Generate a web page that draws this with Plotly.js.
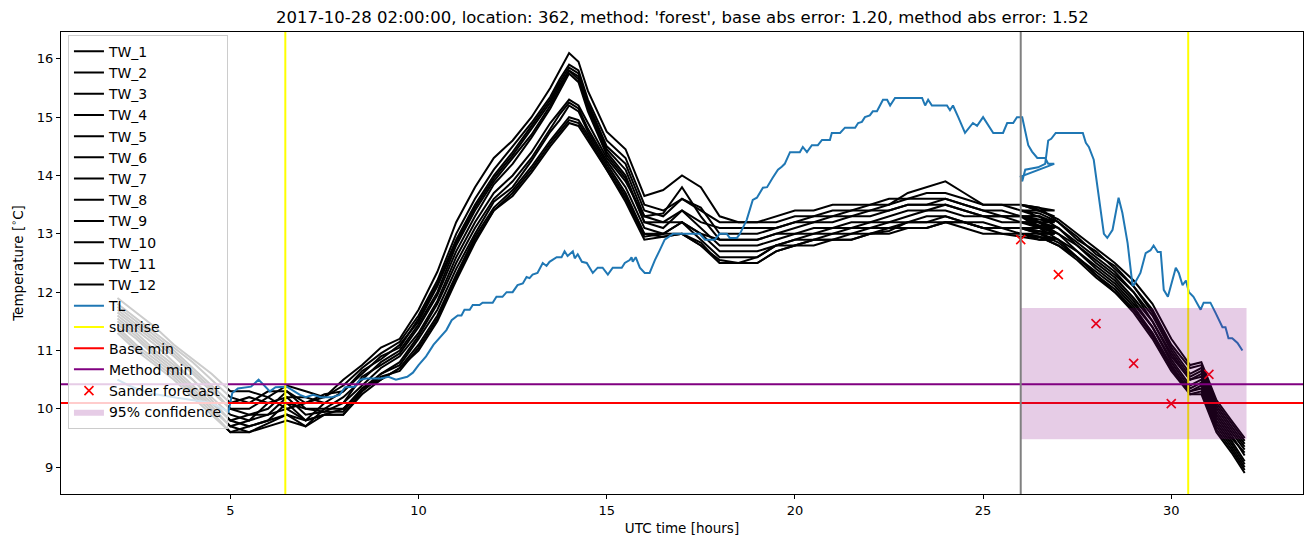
<!DOCTYPE html>
<html><head><meta charset="utf-8">
<script src="https://cdn.plot.ly/plotly-3.0.1.min.js"></script>
<style>html,body{margin:0;padding:0;background:#fff}</style>
</head><body><div id="chart" style="width:1311px;height:547px"></div>
<script>
// Shared hour axis of the TW series (first run up to 26.9 h, then second run from 26 h)
const TW_X = [2, 2.5, 3, 3.5, 4, 4.5, 5, 5.5, 6, 6.5, 7, 7.5, 8, 8.5, 9, 9.5,
  10, 10.5, 11, 11.5, 12, 12.5, 13, 13.5, 13.75, 14, 14.25, 14.5, 15, 15.5,
  16, 16.5, 17, 17.5, 18,
  18.5, 19, 19.5, 20, 20.5, 21, 21.5, 22, 22.5, 23, 23.5, 24, 24.5, 25, 25.5, 26, 26.5, 26.9,
  26, 26.5, 27, 27.5, 28, 28.5, 29, 29.5, 30, 30.5, 30.8, 31.2, 31.6, 31.95];

const TW_1 = [11.9, 11.65, 11.4, 11.1, 10.85, 10.6, 10.3, 10.3, 10.2, 10.4, 10.3, 10.2, 10.5, 10.75, 11.05, 11.2,
  11.7, 12.35, 13.2, 13.8, 14.3, 14.6, 15.0, 15.5, 15.8, 16.1, 15.95, 15.45, 14.75, 14.45,
  13.65, 13.75, 14.0, 13.8, 13.3,
  13.2, 13.2, 13.3, 13.4, 13.4, 13.5, 13.5, 13.5, 13.6, 13.6, 13.7, 13.7, 13.6, 13.5, 13.5, 13.4, 13.4, 13.4,
  13.5, 13.4, 13.25, 13.0, 12.75, 12.5, 12.2, 11.8, 11.2, 10.75, 10.8, 10.15, 9.8, 9.5];
const TW_2 = [11.8, 11.55, 11.3, 11.05, 10.8, 10.5, 10.2, 10.1, 10.3, 10.3, 10.1, 10.2, 10.4, 10.7, 10.95, 11.15,
  11.6, 12.2, 13.0, 13.6, 14.1, 14.5, 14.9, 15.35, 15.65, 15.9, 15.8, 15.3, 14.6, 14.3,
  13.5, 13.4, 13.6, 13.45, 13.0,
  13.0, 13.0, 13.1, 13.2, 13.3, 13.3, 13.4, 13.4, 13.5, 13.6, 13.6, 13.6, 13.5, 13.4, 13.4, 13.3, 13.3, 13.2,
  13.4, 13.35, 13.2, 12.9, 12.7, 12.4, 12.1, 11.7, 11.1, 10.7, 10.75, 10.1, 9.75, 9.45];
const TW_3 = [11.75, 11.5, 11.25, 11.0, 10.7, 10.4, 10.1, 10.2, 10.1, 10.2, 10.2, 10.1, 10.3, 10.6, 10.9, 11.05,
  11.55, 12.15, 12.9, 13.5, 14.0, 14.4, 14.85, 15.3, 15.6, 15.85, 15.75, 15.25, 14.5, 14.2,
  13.4, 13.3, 13.6, 13.4, 13.2,
  13.2, 13.2, 13.2, 13.3, 13.3, 13.4, 13.4, 13.5, 13.5, 13.7, 13.8, 13.9, 13.7, 13.5, 13.5, 13.5, 13.4, 13.3,
  13.5, 13.45, 13.2, 12.95, 12.65, 12.45, 12.1, 11.65, 11.05, 10.6, 10.7, 10.05, 9.7, 9.4];
const TW_4 = [11.7, 11.45, 11.2, 10.95, 10.65, 10.35, 10.0, 10.0, 10.2, 10.0, 10.1, 10.25, 10.3, 10.65, 10.85, 11.1,
  11.5, 12.1, 12.85, 13.45, 13.95, 14.35, 14.8, 15.25, 15.55, 15.8, 15.7, 15.2, 14.45, 14.1,
  13.3, 13.35, 13.8, 13.3, 12.9,
  12.9, 12.9, 13.0, 13.1, 13.2, 13.2, 13.3, 13.3, 13.4, 13.5, 13.5, 13.6, 13.5, 13.4, 13.3, 13.3, 13.2, 13.2,
  13.3, 13.3, 13.1, 12.85, 12.6, 12.35, 12.0, 11.6, 11.0, 10.55, 10.65, 10.0, 9.65, 9.35];
const TW_5 = [11.65, 11.4, 11.15, 10.9, 10.6, 10.3, 10.0, 9.9, 10.0, 10.3, 10.0, 10.0, 10.2, 10.5, 10.8, 11.0,
  11.45, 12.0, 12.8, 13.4, 13.9, 14.3, 14.7, 15.2, 15.5, 15.8, 15.65, 15.15, 14.4, 14.0,
  13.2, 13.2, 13.4, 13.2, 13.1,
  13.1, 13.1, 13.1, 13.2, 13.2, 13.3, 13.3, 13.4, 13.4, 13.5, 13.5, 13.5, 13.4, 13.3, 13.3, 13.2, 13.2, 13.1,
  13.3, 13.2, 13.1, 12.8, 12.55, 12.3, 12.0, 11.5, 10.95, 10.5, 10.6, 9.95, 9.6, 9.3];
const TW_6 = [11.6, 11.35, 11.1, 10.8, 10.5, 10.2, 9.9, 9.8, 10.1, 10.1, 9.8, 10.1, 10.1, 10.55, 10.75, 10.95,
  11.4, 11.95, 12.7, 13.3, 13.85, 14.2, 14.65, 15.15, 15.45, 15.75, 15.6, 15.1, 14.35, 13.95,
  13.2, 13.1, 13.4, 13.1, 12.8,
  12.8, 12.8, 12.9, 13.0, 13.1, 13.1, 13.2, 13.2, 13.3, 13.4, 13.4, 13.4, 13.3, 13.3, 13.2, 13.2, 13.1, 13.1,
  13.2, 13.2, 13.0, 12.8, 12.5, 12.25, 11.9, 11.5, 10.9, 10.5, 10.55, 9.9, 9.55, 9.2];
const TW_7 = [11.55, 11.3, 11.0, 10.75, 10.5, 10.15, 9.8, 9.9, 9.9, 10.2, 9.9, 9.95, 10.1, 10.4, 10.7, 10.9,
  11.3, 11.85, 12.6, 13.2, 13.7, 14.0, 14.4, 14.9, 15.1, 15.3, 15.2, 14.9, 14.3, 13.9,
  13.3, 13.2, 13.2, 13.0, 12.9,
  12.9, 12.9, 13.0, 13.0, 13.0, 13.1, 13.1, 13.2, 13.2, 13.3, 13.4, 13.5, 13.4, 13.3, 13.3, 13.3, 13.2, 13.0,
  13.3, 13.1, 13.0, 12.7, 12.45, 12.2, 11.85, 11.4, 10.85, 10.4, 10.5, 9.85, 9.5, 9.25];
const TW_8 = [11.5, 11.25, 10.95, 10.7, 10.4, 10.1, 9.8, 9.7, 9.8, 9.9, 9.7, 10.0, 10.0, 10.35, 10.6, 10.8,
  11.25, 11.8, 12.5, 13.1, 13.6, 13.9, 14.3, 14.8, 15.05, 15.25, 15.15, 14.8, 14.25, 13.8,
  13.1, 13.0, 13.2, 13.0, 12.7,
  12.7, 12.7, 12.8, 12.9, 13.0, 13.0, 13.1, 13.1, 13.2, 13.2, 13.3, 13.3, 13.2, 13.2, 13.1, 13.1, 13.0, 13.0,
  13.1, 13.1, 12.9, 12.7, 12.4, 12.15, 11.8, 11.4, 10.8, 10.35, 10.45, 9.8, 9.45, 9.1];
const TW_9 = [11.45, 11.2, 10.9, 10.65, 10.35, 10.05, 9.7, 9.8, 9.9, 10.0, 9.8, 9.9, 10.0, 10.3, 10.6, 10.75,
  11.2, 11.7, 12.4, 13.0, 13.55, 13.8, 14.25, 14.75, 14.95, 15.2, 15.1, 14.75, 14.2, 13.7,
  13.0, 13.0, 13.2, 12.9, 12.6,
  12.6, 12.6, 12.8, 12.9, 12.9, 13.0, 13.0, 13.1, 13.1, 13.2, 13.2, 13.3, 13.2, 13.1, 13.1, 13.0, 13.0, 12.9,
  13.0, 13.0, 12.9, 12.6, 12.35, 12.1, 11.75, 11.3, 10.75, 10.3, 10.4, 9.75, 9.4, 9.05];
const TW_10 = [11.4, 11.1, 10.85, 10.6, 10.3, 10.0, 9.7, 9.6, 9.7, 9.8, 9.7, 9.9, 9.9, 10.25, 10.5, 10.7,
  11.1, 11.6, 12.3, 12.95, 13.45, 13.75, 14.15, 14.6, 14.8, 15.0, 14.95, 14.7, 14.15, 13.65,
  13.0, 12.95, 13.0, 12.8, 12.55,
  12.5, 12.5, 12.7, 12.8, 12.9, 12.9, 13.0, 13.0, 13.1, 13.1, 13.1, 13.2, 13.2, 13.1, 13.0, 13.0, 12.9, 12.9,
  13.0, 12.95, 12.8, 12.6, 12.3, 12.05, 11.7, 11.3, 10.7, 10.3, 10.35, 9.7, 9.35, 9.0];
const TW_11 = [11.35, 11.05, 10.8, 10.55, 10.25, 9.95, 9.6, 9.6, 9.75, 9.9, 9.8, 9.9, 9.9, 10.3, 10.55, 10.65,
  11.05, 11.55, 12.25, 12.9, 13.4, 13.7, 14.1, 14.55, 14.75, 14.95, 14.9, 14.65, 14.1, 13.6,
  12.95, 13.0, 13.0, 12.85, 12.5,
  12.5, 12.5, 12.7, 12.8, 12.8, 12.9, 12.9, 13.0, 13.0, 13.1, 13.1, 13.2, 13.1, 13.0, 13.0, 12.95, 12.9, 12.9,
  13.0, 12.95, 12.8, 12.55, 12.25, 12.0, 11.65, 11.2, 10.65, 10.25, 10.3, 9.65, 9.3, 8.95];
const TW_12 = [11.3, 11.0, 10.75, 10.5, 10.2, 9.9, 9.6, 9.7, 9.8, 10.1, 10.0, 9.95, 9.95, 10.35, 10.5, 10.7,
  11.0, 11.5, 12.2, 12.85, 13.4, 13.65, 14.05, 14.5, 14.7, 14.9, 14.85, 14.6, 14.1, 13.55,
  12.9, 12.95, 13.0, 12.8, 12.5,
  12.5, 12.6, 12.8, 12.8, 12.9, 12.9, 12.9, 13.0, 13.05, 13.2, 13.2, 13.2, 13.2, 13.1, 13.1, 13.1, 13.0, 13.0,
  13.1, 13.0, 12.85, 12.6, 12.3, 12.0, 11.7, 11.25, 10.7, 10.25, 10.25, 9.6, 9.25, 8.9];
const TW_SERIES = [TW_1, TW_2, TW_3, TW_4, TW_5, TW_6, TW_7, TW_8, TW_9, TW_10, TW_11, TW_12];
const TW_NAMES = ['TW_1','TW_2','TW_3','TW_4','TW_5','TW_6','TW_7','TW_8','TW_9','TW_10','TW_11','TW_12'];

// TL observations (first run, then second run starting again at 26 h)
const TL_X = [2.0, 2.3, 2.7, 3.0, 3.5, 4.0, 4.5, 4.95, 5.05, 5.2, 5.4, 5.55, 5.75, 5.9, 6.05, 6.2, 6.5, 6.7, 6.85,
  7.0, 7.2, 7.4, 7.7, 7.9, 8.05, 8.3, 8.45, 8.6, 9.0, 9.2, 9.4, 9.7, 9.85, 10.0, 10.2, 10.4, 10.6,
  10.74, 10.88, 11.04, 11.14, 11.22, 11.36, 11.44, 11.62, 11.70, 11.97, 12.07, 12.23, 12.34, 12.50, 12.63, 12.77,
  12.87, 12.95, 13.03, 13.16, 13.30, 13.40, 13.48, 13.67, 13.80, 13.88, 13.96, 14.10, 14.15, 14.23, 14.34, 14.47,
  14.63, 14.76, 14.89, 15.03, 15.16, 15.40, 15.48, 15.61, 15.66, 15.69, 15.77, 15.88, 16.01, 16.14, 16.28, 16.41,
  16.54, 16.76, 17.47, 17.61, 17.87, 18.0, 18.19, 18.27, 18.46, 18.54, 18.72, 18.88, 18.99, 19.15, 19.26, 19.41,
  19.55, 19.65, 19.73, 19.87, 20.13, 20.21, 20.32, 20.45, 20.61, 20.72, 20.93, 20.98, 21.2, 21.33, 21.6, 21.68,
  21.78, 21.86, 21.99, 22.07, 22.18, 22.26, 22.34, 22.45, 22.53, 22.66, 23.38, 23.46, 23.54, 23.64, 24.04, 24.12,
  24.2, 24.34, 24.52, 24.73, 24.84, 25.0, 25.13, 25.27, 25.53, 25.64, 25.8, 25.9, 26.04, 26.12, 26.2, 26.3, 26.44,
  26.65, 26.73, 26.89,
  26.0, 26.04, 26.12, 26.46, 26.65, 26.73, 26.81, 26.93, 27.65, 27.73, 27.81, 27.94, 28.05, 28.13, 28.21, 28.3,
  28.44, 28.6, 28.7, 28.84, 28.97, 29.0, 29.18, 29.32, 29.45, 29.53, 29.64, 29.72, 29.8, 29.91, 29.99, 30.12,
  30.2, 30.3, 30.39, 30.47, 30.59, 30.78, 30.86, 31.04, 31.18, 31.36, 31.44, 31.52, 31.62, 31.76, 31.89];
const TL_Y = [10.5, 10.4, 10.3, 10.25, 10.2, 10.15, 10.1, 9.95, 10.27, 10.35, 10.37, 10.38, 10.5, 10.4, 10.3, 10.37, 10.38, 10.3, 10.24,
  10.2, 10.24, 10.2, 10.2, 10.24, 10.37, 10.38, 10.5, 10.52, 10.52, 10.55, 10.5, 10.55, 10.62, 10.75, 10.9, 11.1, 11.25,
  11.35, 11.52, 11.6, 11.6, 11.7, 11.7, 11.78, 11.78, 11.82, 11.82, 11.92, 11.92, 12.0, 12.0, 12.12, 12.15,
  12.26, 12.24, 12.3, 12.33, 12.5, 12.45, 12.52, 12.6, 12.6, 12.7, 12.62, 12.7, 12.58, 12.65, 12.52, 12.5,
  12.33, 12.42, 12.42, 12.3, 12.42, 12.42, 12.5, 12.55, 12.6, 12.52, 12.6, 12.42, 12.33, 12.33, 12.55, 12.72,
  12.9, 13.0, 13.0, 12.9, 12.9, 13.0, 13.0, 12.93, 12.93, 13.0, 13.24, 13.58, 13.62, 13.79, 13.8, 13.96,
  14.1, 14.15, 14.2, 14.4, 14.4, 14.49, 14.4, 14.52, 14.52, 14.61, 14.61, 14.73, 14.73, 14.82, 14.82, 14.9,
  14.92, 15.0, 15.03, 15.1, 15.1, 15.2, 15.3, 15.3, 15.2, 15.33, 15.33, 15.2, 15.3, 15.2, 15.2, 15.12,
  15.2, 15.0, 14.73, 14.9, 14.85, 15.0, 14.87, 14.73, 14.73, 14.9, 14.9, 15.0, 15.0, 14.75, 14.52, 14.41, 14.3,
  14.3, 14.2, 14.2,
  13.98, 13.9, 14.1, 14.14, 14.2, 14.6, 14.63, 14.73, 14.73, 14.56, 14.49, 14.27, 13.75, 13.4, 13.0, 12.93,
  13.07, 13.62, 13.36, 12.84, 12.12, 12.12, 12.33, 12.67, 12.72, 12.8, 12.69, 12.69, 12.04, 11.92, 12.12, 12.42,
  12.33, 12.12, 12.2, 12.0, 11.92, 11.7, 11.82, 11.82, 11.64, 11.4, 11.4, 11.21, 11.21, 11.13, 11.0];

const SUNRISE = [6.46, 30.45];
const BASE_MIN = 10.1;
const METHOD_MIN = 10.42;
const FORECAST_START = 26;
const SANDER_X = [26, 27, 28, 29, 30, 31];
const SANDER_Y = [12.9, 12.3, 11.46, 10.78, 10.09, 10.59];
const CONF_X = [26, 32];
const CONF_LO = 9.48;
const CONF_HI = 11.73;

const TITLE = "2017-10-28 02:00:00, location: 362, method: 'forest', base abs error: 1.20, method abs error: 1.52";
const XRANGE = [0.5, 33.5];
const YRANGE = [8.54, 16.46];
const XTICKS = [5, 10, 15, 20, 25, 30];
const YTICKS = [9, 10, 11, 12, 13, 14, 15, 16];

const traces = [];
TW_SERIES.forEach((ys, i) => {
  traces.push({x: TW_X, y: ys, name: TW_NAMES[i], type: 'scatter', mode: 'lines',
    line: {color: 'black', width: 2}, legendrank: i + 1});
});
traces.push({x: TL_X, y: TL_Y, name: 'TL', type: 'scatter', mode: 'lines',
  line: {color: '#1f77b4', width: 2}, legendrank: 20});
const sx = [], sy = [];
SUNRISE.forEach(s => { sx.push(s, s, null); sy.push(YRANGE[0], YRANGE[1], null); });
traces.push({x: sx, y: sy, name: 'sunrise', type: 'scatter', mode: 'lines',
  line: {color: '#ffff00', width: 2}, legendrank: 21});
traces.push({x: XRANGE, y: [BASE_MIN, BASE_MIN], name: 'Base min', type: 'scatter', mode: 'lines',
  line: {color: '#ff0000', width: 2}, legendrank: 22});
traces.push({x: XRANGE, y: [METHOD_MIN, METHOD_MIN], name: 'Method min', type: 'scatter', mode: 'lines',
  line: {color: '#800080', width: 2}, legendrank: 23});
traces.push({x: SANDER_X, y: SANDER_Y, name: 'Sander forecast', type: 'scatter', mode: 'markers',
  marker: {symbol: 'x-thin-open', size: 9, color: '#ff0000', line: {color: '#ff0000', width: 1.6}}, legendrank: 24});
traces.push({x: [CONF_X[0], CONF_X[1], CONF_X[1], CONF_X[0], CONF_X[0]],
  y: [CONF_LO, CONF_LO, CONF_HI, CONF_HI, CONF_LO], name: '95% confidence', type: 'scatter', mode: 'lines',
  fill: 'toself', fillcolor: 'rgba(128,0,128,0.2)', line: {width: 0, color: 'rgba(128,0,128,0)'}, legendrank: 25});

const axisCommon = {showgrid: false, zeroline: false, showline: true, mirror: true, linecolor: 'black', linewidth: 1,
  ticks: 'outside', ticklen: 4, tickwidth: 1, tickcolor: 'black',
  tickfont: {family: 'DejaVu Sans', size: 13, color: 'black'}};

const layout = {
  width: 1311, height: 547,
  margin: {l: 61, r: 8, t: 32, b: 53},
  paper_bgcolor: 'white', plot_bgcolor: 'white',
  font: {family: 'DejaVu Sans', color: 'black'},
  title: {text: TITLE, font: {family: 'DejaVu Sans', size: 16.5, color: 'black'}, x: 0.5205, xanchor: 'center', y: 0.969, yanchor: 'middle'},
  xaxis: Object.assign({}, axisCommon, {range: XRANGE, tickvals: XTICKS, ticktext: XTICKS.map(String),
    title: {text: 'UTC time [hours]', font: {family: 'DejaVu Sans', size: 13.5, color: 'black'}, standoff: 6}}),
  yaxis: Object.assign({}, axisCommon, {range: YRANGE, tickvals: YTICKS, ticktext: YTICKS.map(String),
    title: {text: 'Temperature [<sup>∘</sup>C]', font: {family: 'DejaVu Sans', size: 13.5, color: 'black'}, standoff: 10}}),
  showlegend: true,
  legend: {x: 0.0056, y: 0.994, xanchor: 'left', yanchor: 'top', bgcolor: 'rgba(255,255,255,0.8)',
    bordercolor: '#cccccc', borderwidth: 1, font: {family: 'DejaVu Sans', size: 14, color: 'black'},
    traceorder: 'normal', itemwidth: 30},
  shapes: [{type: 'line', xref: 'x', yref: 'paper', x0: FORECAST_START, x1: FORECAST_START, y0: 0, y1: 1,
    line: {color: '#808080', width: 2}, layer: 'above'}]
};
Plotly.newPlot('chart', traces, layout, {displayModeBar: false, staticPlot: true});
</script></body></html>
